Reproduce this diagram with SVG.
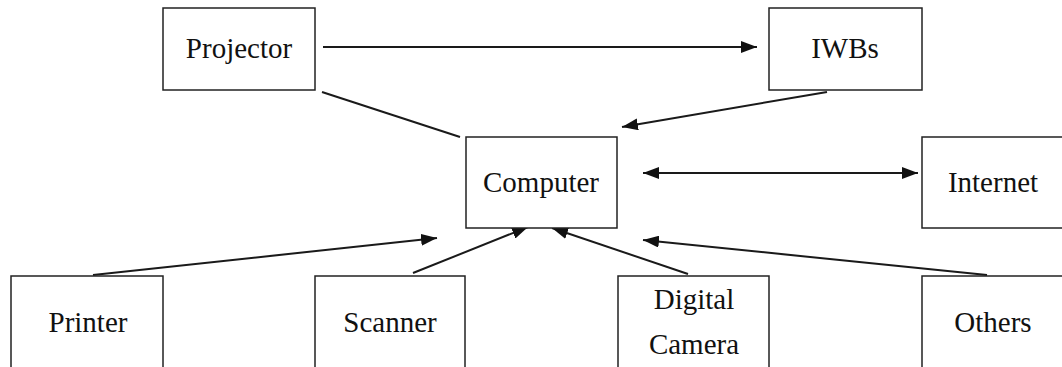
<svg xmlns="http://www.w3.org/2000/svg" width="1062" height="367" viewBox="0 0 1062 367">
<style>
.box{fill:#fff;stroke:#222;stroke-width:1.5}
.lbl{font-size:29px;fill:#111;text-anchor:middle}
.con{stroke:#1a1a1a;stroke-width:2;fill:none}
</style>
<defs>
<marker id="ah" viewBox="0 0 16 12" refX="16" refY="6" markerWidth="16" markerHeight="12" markerUnits="userSpaceOnUse" orient="auto-start-reverse">
<path d="M0,0 L16,6 L0,12 Z" fill="#111"/>
</marker>
</defs>
<rect width="1062" height="367" fill="#fff"/>
<g id="connectors">
<line class="con" x1="323" y1="47" x2="757" y2="47" marker-end="url(#ah)"/>
<line class="con" x1="322" y1="92" x2="460" y2="137" stroke-width="1.5"/>
<line class="con" x1="827" y1="92" x2="622" y2="127" marker-end="url(#ah)"/>
<line class="con" x1="643" y1="173" x2="918" y2="173" marker-start="url(#ah)" marker-end="url(#ah)"/>
<line class="con" x1="93" y1="275" x2="437" y2="238" marker-end="url(#ah)"/>
<line class="con" x1="413" y1="273" x2="528" y2="227" marker-end="url(#ah)"/>
<line class="con" x1="688" y1="274" x2="552" y2="228" marker-end="url(#ah)"/>
<line class="con" x1="987" y1="275" x2="643" y2="240" marker-end="url(#ah)"/>
</g>
<g font-family="Liberation Serif, DejaVu Serif, serif">
<g id="projector"><rect class="box" x="163" y="8" width="152" height="82"/><text class="lbl" x="239" y="58">Projector</text></g>
<g id="iwbs"><rect class="box" x="769" y="8" width="153" height="82"/><text class="lbl" x="845" y="58">IWBs</text></g>
<g id="computer"><rect class="box" x="466" y="137" width="151" height="91"/><text class="lbl" x="541" y="192">Computer</text></g>
<g id="internet"><rect class="box" x="922" y="137" width="150" height="91"/><text class="lbl" x="993" y="192">Internet</text></g>
<g id="printer"><rect class="box" x="11" y="276" width="152" height="100"/><text class="lbl" x="88" y="332">Printer</text></g>
<g id="scanner"><rect class="box" x="315" y="276" width="150" height="100"/><text class="lbl" x="390" y="332">Scanner</text></g>
<g id="camera"><rect class="box" x="618" y="276" width="151" height="100"/><text class="lbl" x="694" y="309">Digital</text><text class="lbl" x="694" y="354">Camera</text></g>
<g id="others"><rect class="box" x="922" y="276" width="150" height="100"/><text class="lbl" x="993" y="332">Others</text></g>
</g>
</svg>
